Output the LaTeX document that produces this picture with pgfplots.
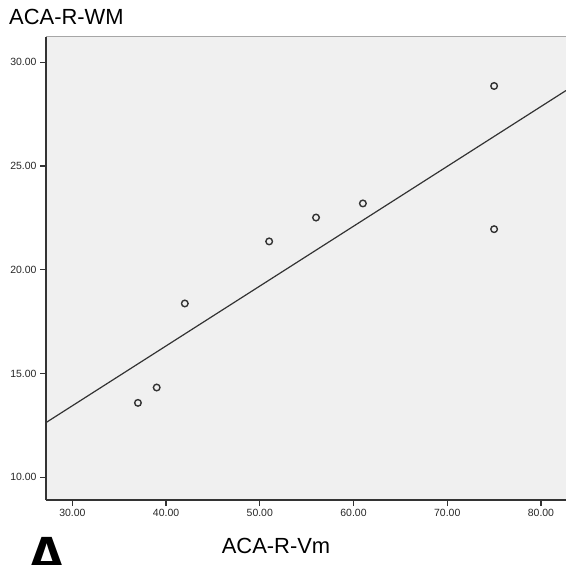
\documentclass[border=0pt]{standalone}
\usepackage{fontspec}
\setmainfont{Liberation Sans}
\usepackage{pgfplots}
\pgfplotsset{compat=1.18}
\definecolor{plotbg}{HTML}{F0F0F0}
\definecolor{ink}{HTML}{333333}

\begin{document}
\begin{tikzpicture}
\useasboundingbox (0bp,0bp) rectangle (566bp,565bp);
\begin{axis}[
  at={(46bp,65bp)}, anchor=south west,
  width=520bp, height=463bp, scale only axis,
  xmin=27.19, xmax=82.67, ymin=8.91, ymax=31.22,
  xtick={30,40,...,80}, ytick={10,15,...,30},
  axis background/.style={fill=plotbg},
  axis x line*=bottom, axis y line*=left,
  axis line style={-, ink, line width=1.4bp},
  tick align=outside, major tick length=6bp,
  tick style={ink, line width=1.2bp},
  ticklabel style={font=\fontsize{10.5}{12}\selectfont, text=black!85},
  /pgf/number format/.cd, fixed, fixed zerofill, precision=2, assume math mode=true,
]
% regression line
\addplot[ink, line width=1.2bp, no marks] coordinates {(27.19,12.64) (82.67,28.64)};
% observations
\addplot[only marks, mark=o, mark size=3.3bp, ink, mark options={line width=1.4bp}] coordinates {
  (37,13.59) (39,14.33) (42,18.38) (51,21.37)
  (56,22.52) (61,23.20) (75,28.86) (75,21.96)
};
\draw[gray!70, line width=1bp] (rel axis cs:0,1) -- (rel axis cs:1,1);
\end{axis}
\node[anchor=base west, font=\fontsize{22}{26}\selectfont, inner sep=0] at (9bp,540bp) {ACA-R-WM};
\node[anchor=base, font=\fontsize{22}{26}\selectfont, inner sep=0] at (276bp,12bp) {ACA-R-Vm};
\node[anchor=base, font=\bfseries\fontsize{60}{70}\selectfont, inner sep=0] at (47bp,-13bp) {A};
\end{tikzpicture}
\end{document}
